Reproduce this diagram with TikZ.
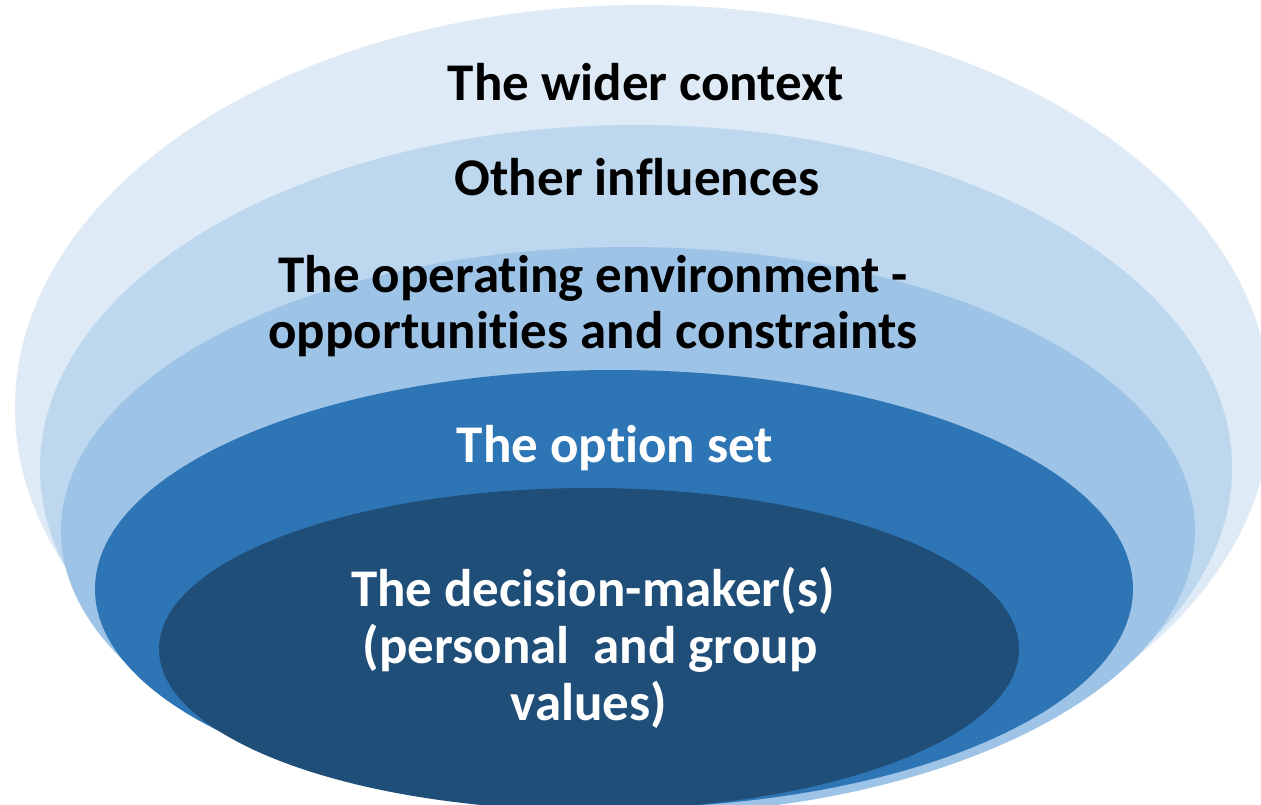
\documentclass[tikz,border=0pt]{standalone}
\usepackage{fontspec}
\setmainfont{Carlito}[Ligatures={NoCommon}]
\definecolor{ringA}{HTML}{DEEBF7}
\definecolor{ringB}{HTML}{BDD7EE}
\definecolor{ringC}{HTML}{9DC3E6}
\definecolor{ringD}{HTML}{2E75B6}
\definecolor{ringE}{HTML}{1F4E79}
\begin{document}
\begin{tikzpicture}[x=1pt,y=-1pt,
  lbl/.style={align=center,inner sep=0pt,anchor=base,
    font=\fontsize{53}{57}\selectfont\bfseries},
  dark/.style={lbl,text=black},
  light/.style={lbl,text=white}]
\useasboundingbox (0,0) rectangle (1261,805);
\clip (0,0) rectangle (1261,805);
\fill[white] (0,0) rectangle (1261,805);
\fill[ringA] (643,408) ellipse [x radius=628pt, y radius=403pt];
\fill[ringB] (636,468) ellipse [x radius=596pt, y radius=343pt];
\fill[ringC] (628,531) ellipse [x radius=567pt, y radius=284pt];
\fill[ringD] (614,589) ellipse [x radius=519pt, y radius=219pt];
\fill[ringE] (589,649) ellipse [x radius=430pt, y radius=161pt];
\node[dark]  (wider)  at (646,101) {The wider context};
\node[dark]  (other)  at (637,196) {Other influences};
\node[dark]  (operA)  at (593,292) {The operating environment -};
\node[dark]  (operB)  at (593,348) {opportunities and constraints};
\node[light] (option) at (615,462) {The option set};
\node[light] (decA)   at (593,606) {The decision-maker(s)};
\node[light] (decB)   at (590,663) {(personal\ \ and group};
\node[light] (decC)   at (589,720) {values)};
\end{tikzpicture}
\end{document}
